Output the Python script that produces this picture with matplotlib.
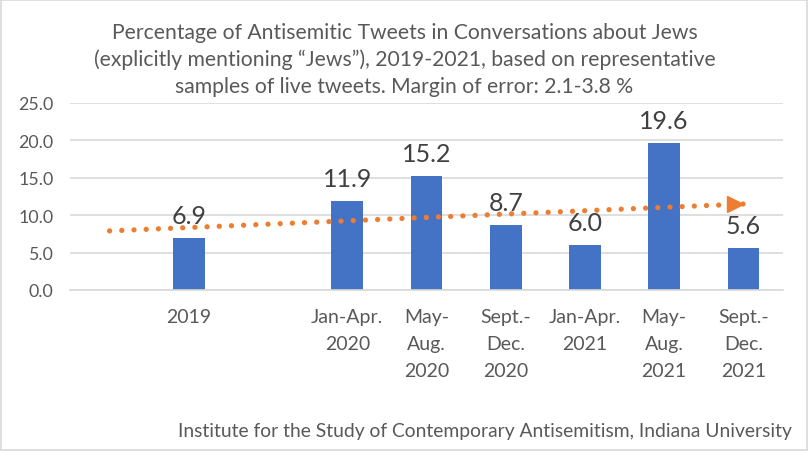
import matplotlib.pyplot as plt
import matplotlib.transforms as mtransforms
from matplotlib.patches import Rectangle
import numpy as np

plt.rcParams['font.family'] = ['Lato', 'DejaVu Sans']

# chart data
categories = ["", "2019", "", "Jan-Apr.\n2020", "May-\nAug.\n2020", "Sept.-\nDec.\n2020",
              "Jan-Apr.\n2021", "May-\nAug.\n2021", "Sept.-\nDec.\n2021"]
values = [None, 6.9, None, 11.9, 15.2, 8.7, 6.0, 19.6, 5.6]
trend_values = [7.9, 11.5]   # trend arrow, first and last category
yticks = [0, 5, 10, 15, 20, 25]

title = ("Percentage of Antisemitic Tweets in Conversations about Jews\n"
         "(explicitly mentioning \u201cJews\u201d), 2019-2021, based on representative\n"
         "samples of live tweets. Margin of error: 2.1-3.8 %")
source = "Institute for the Study of Contemporary Antisemitism, Indiana University"

bar_color = "#4472C4"
trend_color = "#ED7D31"
grid_color = "#D9D9D9"
text_gray = "#595959"

fig = plt.figure(figsize=(8.09, 4.52), dpi=100)
ax = fig.add_axes([70 / 809, 1 - 291 / 452, 713 / 809, 187 / 452])

x = np.arange(len(categories))
bx = [i for i, v in zip(x, values) if v is not None]
bv = [v for v in values if v is not None]
ax.bar(bx, bv, width=0.4, color=bar_color, zorder=2)

for i, v in zip(bx, bv):
    ax.annotate(f"{v:.1f}", (i, v), xytext=(0, 8), textcoords="offset points",
                ha="center", va="bottom", fontsize=18, color="#404040")

# dotted trend line with arrow head
ax.plot([x[0], x[-1]], trend_values, color=trend_color, lw=3.8,
        linestyle=(0, (0.01, 2.3)), dash_capstyle="round", zorder=3)
shift = mtransforms.offset_copy(ax.transData, fig=fig, x=-8, y=0, units="dots")
ax.plot([x[-1]], [trend_values[-1]], marker=">", markersize=12, color=trend_color,
        transform=shift, zorder=4)

ax.set_xlim(-0.5, len(categories) - 0.5)
ax.set_ylim(0, 25)
ax.set_yticks(yticks)
ax.set_yticklabels([f"{t:.1f}" for t in yticks])
ax.set_xticks(x)
ax.set_xticklabels(categories, linespacing=1.7)
ax.tick_params(axis="both", length=0, colors=text_gray, labelsize=14)
ax.tick_params(axis="x", pad=13)
ax.tick_params(axis="y", pad=12, labelsize=12.8)
ax.yaxis.grid(True, color=grid_color, lw=1.2)
ax.set_axisbelow(True)
for s in ["top", "right", "left"]:
    ax.spines[s].set_visible(False)
ax.spines["bottom"].set_color(grid_color)
ax.spines["bottom"].set_linewidth(1.2)

fig.text(0.5, 1 - 60 / 452, title, ha="center", va="center", fontsize=15.2,
         color=text_gray, linespacing=1.42)
fig.text(792 / 809, 1 - 432 / 452, source, ha="right", va="center", fontsize=13.9,
         color=text_gray)

fig.patches.append(Rectangle((0.001, 0.002), 0.997, 0.995, transform=fig.transFigure,
                             fill=False, edgecolor=grid_color, lw=1.2))

fig.savefig("out.png", dpi=100)
